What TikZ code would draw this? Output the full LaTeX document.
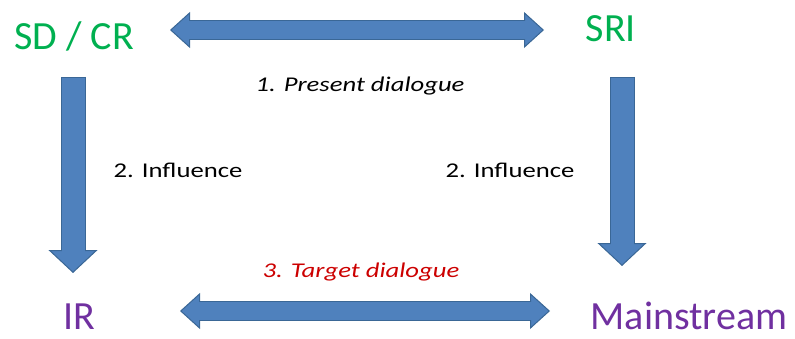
\documentclass[tikz,border=0pt]{standalone}
\usepackage{fontspec}
\setmainfont{Carlito}
\newfontfamily\widefont[FakeStretch=1.27]{Carlito}
\usetikzlibrary{arrows.meta}
\definecolor{sdgreen}{HTML}{00B050}
\definecolor{irpurple}{HTML}{7030A0}
\definecolor{targetred}{HTML}{CC0000}
\definecolor{arrowfill}{HTML}{4F81BD}
\definecolor{arrowedge}{HTML}{3A6796}

\begin{document}
\begin{tikzpicture}[x=1pt, y=-1pt,
    party/.style={font=\fontsize{40}{48}\selectfont, anchor=base, inner sep=0pt},
    steplabel/.style={font=\widefont\fontsize{21}{25}\selectfont, anchor=base, inner sep=0pt},
    dialogue/.style={steplabel, font=\widefont\itshape\fontsize{21}{25}\selectfont},
    hblock/.style={draw=arrowedge, line width=20pt,
        {Triangle[length=20pt, width=36pt, line width=1pt 0, fill=arrowfill]}-{Triangle[length=20pt, width=36pt, line width=1pt 0, fill=arrowfill]},
        postaction={draw=arrowfill, line width=18pt, arrows=-, shorten <=18.5pt, shorten >=18.5pt}},
    vblock/.style={draw=arrowedge, line width=25pt,
        -{Triangle[length=23pt, width=49pt, line width=1pt 0, fill=arrowfill]},
        postaction={draw=arrowfill, line width=23pt, arrows=-, shorten <=1pt, shorten >=21.5pt}}]
    \useasboundingbox (0,0) rectangle (795,339);

    \node[party, text=sdgreen] (sdcr) at (74, 50) {SD / CR};
    \node[party, text=sdgreen] (sri) at (611, 42) {SRI};
    \node[party, text=irpurple] (ir) at (79, 329) {IR};
    \node[party, text=irpurple] (main) at (689, 329) {Mainstream};

    \node[dialogue] (present) at (360, 92) {1. Present dialogue};
    \node[steplabel] (inflleft) at (178, 178) {2. Influence};
    \node[steplabel] (inflright) at (510, 178) {2. Influence};
    \node[dialogue, text=targetred] (target) at (361, 277) {3. Target dialogue};

    \coordinate (top-l) at (170, 30);
    \coordinate (top-r) at (544, 30);
    \coordinate (bot-l) at (180, 311);
    \coordinate (bot-r) at (550, 311);
    \coordinate (left-a) at (73, 77);
    \coordinate (left-b) at (73, 273);
    \coordinate (right-a) at (622, 77);
    \coordinate (right-b) at (622, 266);

    % 1
    \draw[hblock] (top-l) -- (top-r);

    % 2
    \draw[vblock] (left-a) -- (left-b);
    \draw[vblock] (right-a) -- (right-b);

    % 3
    \draw[hblock] (bot-l) -- (bot-r);
\end{tikzpicture}
\end{document}
